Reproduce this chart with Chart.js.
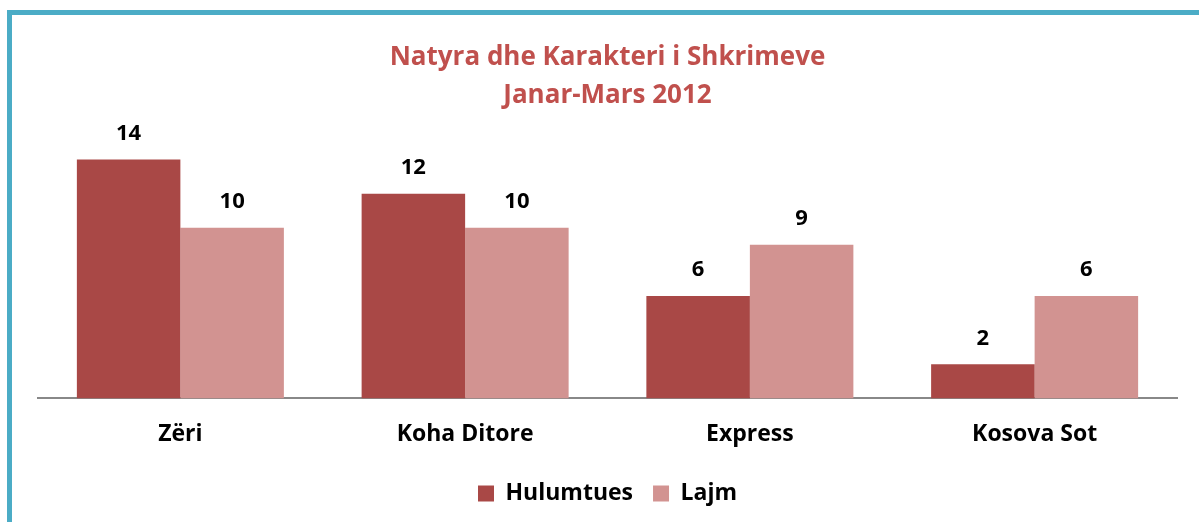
<!DOCTYPE html>
<html>
<head>
<meta charset="utf-8">
<script src="https://cdn.jsdelivr.net/npm/chart.js@4/dist/chart.umd.min.js"></script>
<style>
  html, body { margin: 0; padding: 0; background: #ffffff; overflow: hidden; }
  #frame { position: absolute; left: 7px; top: 10px; width: 1250px; height: 600px;
           border-left: 5px solid #4bacc6; border-top: 5px solid #4bacc6; }
  #wrap { position: absolute; left: 0; top: 0; width: 1199px; height: 522px; }
</style>
</head>
<body>
<div id="frame"></div>
<div id="wrap"><canvas id="c" width="1199" height="522"></canvas></div>
<script>
const categories = ["Zëri", "Koha Ditore", "Express", "Kosova Sot"];
const hulumtues = [14, 12, 6, 2];
const lajm = [10, 10, 9, 6];
const seriesNames = ["Hulumtues", "Lajm"];
const titleLines = ["Natyra dhe Karakteri i Shkrimeve", "Janar-Mars 2012"];

const FONT = "'Open Sans', Lato, sans-serif";

const valueLabels = {
  id: 'valueLabels',
  afterDatasetsDraw(chart) {
    const ctx = chart.ctx;
    ctx.save();
    ctx.font = "bold 22px " + FONT;
    ctx.fillStyle = "#000000";
    ctx.textAlign = "center";
    ctx.textBaseline = "middle";
    chart.data.datasets.forEach((ds, i) => {
      const meta = chart.getDatasetMeta(i);
      meta.data.forEach((bar, j) => {
        ctx.fillText(String(ds.data[j]), bar.x, bar.y - 26);
      });
    });
    ctx.restore();
  }
};

new Chart(document.getElementById('c'), {
  type: 'bar',
  data: {
    labels: categories,
    datasets: [
      { label: seriesNames[0], data: hulumtues, backgroundColor: '#a94846' },
      { label: seriesNames[1], data: lajm, backgroundColor: '#d29391' }
    ]
  },
  options: {
    responsive: false,
    animation: false,
    devicePixelRatio: 1,
    layout: { padding: { left: 38, right: 22, top: 0, bottom: 7 } },
    datasets: { bar: { categoryPercentage: 0.727, barPercentage: 1.0 } },
    plugins: {
      title: {
        display: true,
        text: titleLines,
        color: '#c0504d',
        font: { family: FONT, size: 26, weight: 'bold', lineHeight: 1.47 },
        padding: { top: 38, bottom: 11 }
      },
      legend: {
        position: 'bottom',
        labels: {
          color: '#000000',
          font: { family: FONT, size: 23, weight: 'bold' },
          boxWidth: 16, boxHeight: 16, padding: 20
        }
      },
      tooltip: { enabled: false }
    },
    scales: {
      x: {
        grid: { display: false },
        border: { display: true, color: '#888888', width: 2 },
        ticks: { color: '#000000', font: { family: FONT, size: 23, weight: 'bold' }, padding: 14 }
      },
      y: {
        display: false,
        min: 0, max: 16
      }
    }
  },
  plugins: [valueLabels]
});
</script>
</body>
</html>
